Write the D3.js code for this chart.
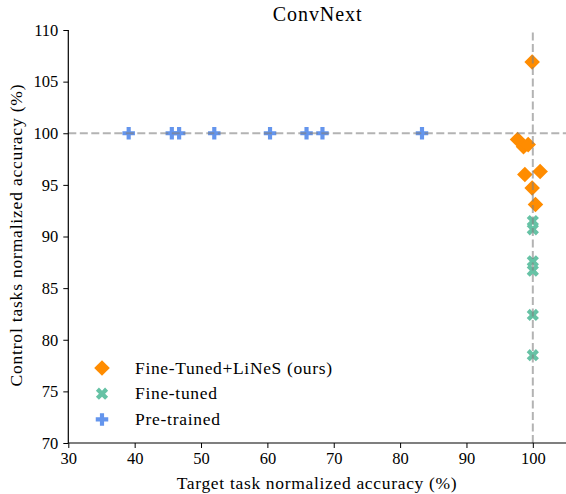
<!DOCTYPE html>
<html>
<head>
<meta charset="utf-8">
<script src="https://cdn.jsdelivr.net/npm/d3@7"></script>
<style>
  html, body { margin: 0; padding: 0; background: #fff; }
</style>
</head>
<body>
<svg id="chart" width="566" height="494"></svg>
<script>
// Fine-Tuned + LiNeS (ours): [target %, control %]
const linesTarget  = [99.9, 97.7, 98.6, 99.3, 98.8, 101.1, 99.9, 100.4];
const linesControl = [106.9, 99.4, 98.7, 98.9, 96.0, 96.3, 94.7, 93.1];

// Fine-tuned
const ftTarget  = [100, 100, 100, 100, 100, 100];
const ftControl = [91.5, 90.7, 87.6, 86.7, 82.4, 78.5];

// Pre-trained
const ptTarget  = [39.1, 45.6, 46.7, 52.0, 60.4, 65.9, 68.3, 83.3];
const ptControl = [100, 100, 100, 100, 100, 100, 100, 100];

const xTicks = [30, 40, 50, 60, 70, 80, 90, 100];
const yTicks = [70, 75, 80, 85, 90, 95, 100, 105, 110];
const xDomain = [30, 105];
const yDomain = [70, 110];
const refTarget = 100, refControl = 100;

const titleText = "ConvNext";
const xLabel = "Target task normalized accuracy (%)";
const yLabel = "Control tasks normalized accuracy (%)";
const legendNames = ["Fine-Tuned+LiNeS (ours)", "Fine-tuned", "Pre-trained"];

const colors = { lines: "#ff8c00", ft: "#66c2a5", pt: "#6495ed" };
const FONT = "Liberation Serif";

const svg = d3.select("#chart");
const margin = { left: 68.3, right: 0, top: 30, bottom: 51 };
const W = 566, H = 494;

const x = d3.scaleLinear().domain(xDomain).range([margin.left, W - margin.right]);
const y = d3.scaleLinear().domain(yDomain).range([H - margin.bottom, margin.top]);

// marker paths
function diamondPath(r) {
  return `M0,${-r}L${r},0L0,${r}L${-r},0Z`;
}
function plusPath(s) {
  const a = s / 6, b = s / 2;
  return `M${-a},${-b}L${a},${-b}L${a},${-a}L${b},${-a}L${b},${a}L${a},${a}L${a},${b}L${-a},${b}L${-a},${a}L${-b},${a}L${-b},${-a}L${-a},${-a}Z`;
}

// scatter series
const plot = svg.append("g");

plot.selectAll("path.pt").data(d3.zip(ptTarget, ptControl)).join("path")
  .attr("class", "pt")
  .attr("d", plusPath(12.5))
  .attr("transform", d => `translate(${x(d[0])},${y(d[1])})`)
  .attr("fill", colors.pt);

plot.selectAll("path.ft").data(d3.zip(ftTarget, ftControl)).join("path")
  .attr("class", "ft")
  .attr("d", plusPath(13))
  .attr("transform", d => `translate(${x(d[0])},${y(d[1])}) rotate(45)`)
  .attr("fill", colors.ft);

plot.selectAll("path.ln").data(d3.zip(linesTarget, linesControl)).join("path")
  .attr("class", "ln")
  .attr("d", diamondPath(7.8))
  .attr("transform", d => `translate(${x(d[0])},${y(d[1])})`)
  .attr("fill", colors.lines);

// reference lines at 100 %
const refG = svg.append("g")
  .attr("stroke", "#808080")
  .attr("stroke-opacity", 0.6)
  .attr("stroke-width", 2)
  .attr("stroke-dasharray", "8,3.5");
refG.append("line")
  .attr("x1", x.range()[0]).attr("x2", x.range()[1])
  .attr("y1", y(refControl)).attr("y2", y(refControl));
refG.append("line")
  .attr("x1", x(refTarget)).attr("x2", x(refTarget))
  .attr("y1", y.range()[0]).attr("y2", y.range()[1]);

// axes
const xAxis = d3.axisBottom(x).tickValues(xTicks).tickSize(5).tickPadding(4).tickFormat(d3.format("d"));
const yAxis = d3.axisLeft(y).tickValues(yTicks).tickSize(5).tickPadding(5).tickFormat(d3.format("d"));

const gx = svg.append("g").attr("transform", `translate(0,${y.range()[0]})`).call(xAxis);
const gy = svg.append("g").attr("transform", `translate(${x.range()[0]},0)`).call(yAxis);

[gx, gy].forEach(g => {
  g.attr("font-family", FONT).attr("font-size", 16.5);
  g.select(".domain").attr("stroke", "#000").attr("stroke-width", 1.2);
  g.selectAll(".tick line").attr("stroke", "#000").attr("stroke-width", 1);
  g.selectAll(".tick text").attr("fill", "#000");
});
// plain spine lines without end caps
gx.select(".domain").attr("d", `M${x.range()[0]},0H${x.range()[1]}`);
gy.select(".domain").attr("d", `M0,${y.range()[0]}V${y.range()[1]}`);

// title and axis labels
svg.append("text")
  .attr("x", (x.range()[0] + x.range()[1]) / 2).attr("y", 21)
  .attr("text-anchor", "middle")
  .attr("font-family", FONT).attr("font-size", 20)
  .attr("textLength", 89).attr("lengthAdjust", "spacing")
  .text(titleText);

svg.append("text")
  .attr("x", (x.range()[0] + x.range()[1]) / 2 - 0.5).attr("y", 489)
  .attr("text-anchor", "middle")
  .attr("font-family", FONT).attr("font-size", 17.5)
  .attr("textLength", 280).attr("lengthAdjust", "spacing")
  .text(xLabel);

svg.append("text")
  .attr("transform", `translate(22,${(y.range()[0] + y.range()[1]) / 2 - 1}) rotate(-90)`)
  .attr("text-anchor", "middle")
  .attr("font-family", FONT).attr("font-size", 17.5)
  .attr("textLength", 302).attr("lengthAdjust", "spacing")
  .text(yLabel);

// legend
const legend = svg.append("g");
const legendRows = [
  { name: legendNames[0], d: diamondPath(7.8), rot: 0, color: colors.lines, w: 197 },
  { name: legendNames[1], d: plusPath(13), rot: 45, color: colors.ft, w: 82 },
  { name: legendNames[2], d: plusPath(12.5), rot: 0, color: colors.pt, w: 85 }
];
legendRows.forEach((r, i) => {
  const cy = 368 + i * 25.7;
  legend.append("path").attr("d", r.d)
    .attr("transform", `translate(102,${cy}) rotate(${r.rot})`)
    .attr("fill", r.color);
  legend.append("text")
    .attr("x", 135).attr("y", cy + 5.5)
    .attr("font-family", FONT).attr("font-size", 17.5)
    .attr("textLength", r.w).attr("lengthAdjust", "spacing")
    .text(r.name);
});
</script>
</body>
</html>
